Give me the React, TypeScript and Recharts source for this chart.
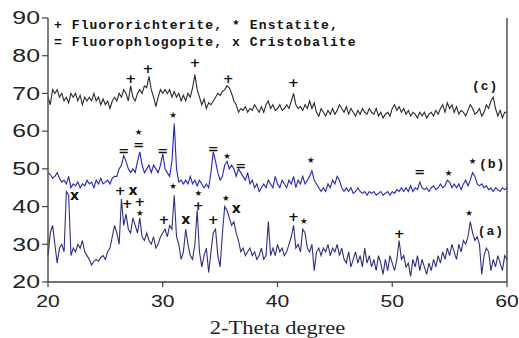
import React from "react";
import { ComposedChart, Line, XAxis, YAxis, ReferenceLine, ReferenceDot } from "recharts";

// intensities sampled every 0.2 deg from 20 to 60 (one row per degree)
const seriesA = [
  27, 33, 35, 30, 25,
  29, 30, 28, 44, 43,
  27, 29, 28, 30, 29,
  31, 28, 27, 26, 24.5,
  25.5, 26, 25.5, 26.5, 27,
  26, 28, 29, 32, 35,
  33, 30, 42, 35, 38,
  34, 33, 37, 35, 33,
  37, 32, 31, 33, 31,
  30, 32, 29, 30, 32,
  33, 34, 32, 35, 34,
  43, 32, 30, 26, 28,
  34, 30, 27, 26, 30,
  39, 28, 24, 27, 29,
  22.5, 28, 33, 34, 27,
  24, 33, 40, 39, 37,
  35, 36, 33, 31, 28,
  29, 27, 28, 29, 27,
  28, 26, 27, 29, 26,
  27, 36, 27, 29, 27,
  30, 28, 29, 27, 28,
  30, 32, 35, 29, 30,
  28, 34, 33, 29, 28,
  30, 23, 28, 29, 27,
  29, 28, 30, 27, 29,
  28, 30, 27, 29, 26,
  25, 28, 24, 26, 28,
  25, 27, 24, 29, 25,
  27, 24, 26, 23, 27,
  25, 22, 26, 23, 27,
  25, 23, 26, 31, 26,
  27, 24, 25, 21.5, 26,
  24, 27, 23, 26, 24,
  22, 25, 23, 26, 24,
  27, 25, 28, 26, 29,
  27, 30, 28, 26, 30,
  28, 31, 30, 32, 36,
  33, 31, 32, 30, 22,
  27, 29, 28, 23, 26,
  24, 27, 25, 23, 27,
  26,
];

const seriesB = [
  49, 48.5, 47.5, 48, 49,
  47.5, 46.5, 47, 46, 48,
  45, 46, 45.5, 46.5, 45,
  46, 45.5, 47, 46, 46.5,
  45, 47, 46, 47.5, 46,
  46.5, 47, 46, 47.5, 48,
  48, 50, 51, 53.5, 52,
  50, 49, 50, 49, 52,
  54.5, 51, 49, 50, 51,
  49, 51, 50, 49, 51,
  54, 50, 49, 48, 52,
  62, 50, 46.5, 47, 46,
  47, 46, 48, 46, 47,
  45.5, 47, 46, 45, 46,
  45, 49, 54.5, 52, 49,
  47, 48, 51, 52, 50,
  51, 50, 48, 50, 49,
  48, 47, 49, 46, 47,
  45, 46, 44, 45, 46,
  45, 47, 46, 45, 48,
  46, 45, 47, 46, 45,
  47, 46, 48, 45, 47,
  46, 48, 46, 47, 48,
  49.5, 47, 46, 45, 44,
  45, 44, 46, 45, 47,
  46, 48, 47, 45, 44,
  45, 44, 45, 43.5, 44,
  45, 44, 43.5, 44, 43,
  44, 43.5, 44, 43, 43.5,
  44, 43, 43.5, 44, 43,
  44, 43.5, 44.5, 44, 45,
  44, 45, 44, 45.5, 44,
  45, 44.5, 46.5, 45, 44.5,
  45, 44, 45, 45.5, 44.5,
  45, 46, 45, 45.5, 47,
  46.5, 45, 46, 45, 46,
  44.5, 46, 47, 45.5, 47,
  49, 48, 46, 45.5, 46,
  45, 45.5, 44.5, 45, 44,
  45, 44.5, 44, 45, 44.5,
  45,
];

const seriesC = [
  69, 67, 71, 70, 71,
  69, 70, 68, 69, 67.5,
  70, 69, 70, 68, 69.5,
  67, 69, 68, 69, 68,
  70, 68, 69, 67, 68.5,
  67, 68, 66, 68, 69,
  68, 70, 69, 71, 70,
  68, 72, 69, 68, 70,
  71, 70, 72, 71.5, 74.5,
  71, 69, 66.5, 69, 71,
  70, 71, 70, 71, 69,
  70.5, 69, 70, 68, 69.5,
  68, 70, 69, 71.5, 75,
  71, 69, 67, 68.5, 66,
  67.5, 67, 68, 69, 70,
  69.5, 70.5, 71, 72, 71.5,
  70, 68, 67, 65, 66,
  65.5, 66.5, 65, 66, 65.5,
  67, 66, 65, 66.5, 65,
  67, 68, 66, 67, 65.5,
  66, 67, 65.5, 66, 67,
  66, 68, 70, 67, 66,
  66.5, 65.5, 67, 66, 68,
  66, 67.5, 65, 64, 66,
  65, 64, 65.5, 64.5, 66,
  64.5, 65.5, 67, 66, 65,
  66.5, 64.5, 66, 65, 64,
  65.5, 64.5, 66, 65, 64.5,
  66, 65, 64.5, 66, 64,
  65, 63.5, 64.5, 65, 64,
  66, 67, 65.5, 66.5, 65,
  66, 64.5, 65.5, 64, 65,
  64.5, 63.5, 65, 64, 65,
  63.5, 64.5, 65, 64, 65.5,
  64.5, 66, 67, 65, 67.5,
  66, 67, 65, 66.5, 64.5,
  65.5, 65, 64, 65.5, 67,
  66, 64.5, 65, 66, 64,
  65, 67, 66, 68, 69,
  66, 64, 65.5, 63.5, 65,
  65,
];

// phase marks placed over the peaks
const markTheta = [
  27.2, 28.7, 32.8, 35.7, 41.4,
  26.6, 27.9, 27.9, 30.0, 30.9, 34.4, 35.6, 36.8, 42.9, 52.4, 54.9, 57.0,
  22.3, 26.3, 27.4, 26.9, 28.0, 28.0, 30.1, 30.9, 32.0, 33.1, 33.1, 34.4, 35.5, 36.4, 41.4, 42.3, 50.6, 56.7,
];
const markValue = [
  74, 76.5, 78.3, 74, 72.8,
  55, 59.8, 56.5, 55, 64.3, 55.4, 53.3, 51, 52.4, 49.3, 48.8, 52,
  43.2, 44.3, 44.5, 40.9, 41.3, 38.2, 36.7, 45.4, 36.8, 43.5, 40.3, 36.7, 42.3, 39.7, 37.4, 36.1, 32.8, 38.3,
];
const markText = [
  "+", "+", "+", "+", "+",
  "=", "★", "=", "=", "★", "=", "★", "=", "★", "=", "★", "★",
  "x", "+", "x", "+", "+", "★", "+", "★", "x", "★", "+", "+", "★", "x", "+", "★", "+", "★",
];

const curveNames = ["(c)", "(b)", "(a)"];
const curveNameTheta = [58.1, 58.7, 58.6];
const curveNameValue = [71.9, 51.2, 33.4];

const legendLines = ["+ Fluororichterite, * Enstatite,", "= Fluorophlogopite, x Cristobalite"];
const xTicks = [20, 30, 40, 50, 60];
const yTicks = [20, 30, 40, 50, 60, 70, 80, 90];

const data = seriesA.map((a, i) => ({
  theta: Math.round((20 + i * 0.2) * 10) / 10,
  a,
  b: seriesB[i],
  c: seriesC[i],
}));

const axisColor = "#444";

function YTick({ x, y, payload }: any) {
  return (
    <g transform={`translate(${x},${y})`}>
      <text textAnchor="end" dominantBaseline="central" transform="scale(1.38,1)"
        fontSize={18} fontFamily="'Liberation Sans', Arial, sans-serif" fill="#222">
        {payload.value}
      </text>
    </g>
  );
}

function XTick({ x, y, payload }: any) {
  return (
    <g transform={`translate(${x},${y})`}>
      <text textAnchor="middle" dominantBaseline="central" transform="scale(1.28,1)"
        fontSize={16.5} fontFamily="'Liberation Sans', Arial, sans-serif" fill="#222">
        {payload.value}
      </text>
    </g>
  );
}

function XTitle({ viewBox }: any) {
  const cx = viewBox.x + viewBox.width / 2;
  return (
    <g transform={`translate(${cx},${viewBox.y + 46})`}>
      <text textAnchor="middle" dominantBaseline="central" transform="scale(1.25,1)"
        fontSize={18} fontFamily="'Liberation Serif', 'Times New Roman', serif" fill="#222">
        2-Theta degree
      </text>
    </g>
  );
}

const markShape = (label: string) => (p: any) => (
  <text x={p.cx} y={p.cy} textAnchor="middle" dominantBaseline="central"
    fontSize={label === "★" ? 8.5 : label === "x" ? 14 : 13} fontWeight="bold"
    fontFamily="'DejaVu Sans', Arial, sans-serif" fill="#111">
    {label}
  </text>
);

const nameShape = (label: string) => (p: any) => (
  <text x={p.cx} y={p.cy} textAnchor="middle" dominantBaseline="central"
    fontSize={13} fontWeight="bold" letterSpacing={1}
    fontFamily="'Liberation Mono', 'Courier New', monospace" fill="#111">
    {label}
  </text>
);

export default function App() {
  return (
    <div style={{ position: "absolute", left: 0, top: 0, width: 519, height: 338, background: "#fff" }}>
      <ComposedChart width={519} height={338} data={data}
        margin={{ top: 18, right: 12, bottom: 0, left: 8 }}>
        <XAxis dataKey="theta" type="number" domain={[20, 60]} ticks={xTicks}
          height={56} tick={<XTick />} tickSize={5} tickMargin={14}
          axisLine={{ stroke: axisColor, strokeWidth: 1.4 }} tickLine={{ stroke: axisColor, strokeWidth: 1.2 }}
          label={<XTitle />} />
        <YAxis type="number" domain={[20, 90]} ticks={yTicks} width={40}
          tick={<YTick />} tickSize={6} tickMargin={2} allowDataOverflow
          axisLine={{ stroke: axisColor, strokeWidth: 1.4 }} tickLine={{ stroke: axisColor, strokeWidth: 1.2 }} />
        <ReferenceLine x={60} stroke={axisColor} strokeWidth={1.4} />
        <Line dataKey="c" type="linear" stroke="#2a2a2a" strokeWidth={1.1} dot={false} isAnimationActive={false} />
        <Line dataKey="b" type="linear" stroke="#2323c8" strokeWidth={1.1} dot={false} isAnimationActive={false} />
        <Line dataKey="a" type="linear" stroke="#2e2e85" strokeWidth={1.1} dot={false} isAnimationActive={false} />
        {markTheta.map((t, i) => (
          <ReferenceDot key={`m${i}`} x={t} y={markValue[i]} r={0} shape={markShape(markText[i])} />
        ))}
        {curveNames.map((n, i) => (
          <ReferenceDot key={`n${i}`} x={curveNameTheta[i]} y={curveNameValue[i]} r={0} shape={nameShape(n)} />
        ))}
      </ComposedChart>
      <div style={{
        position: "absolute", left: 54, top: 17, fontFamily: "'Liberation Mono', 'Courier New', monospace",
        fontWeight: "bold", fontSize: 13, lineHeight: "17px", letterSpacing: 1.1, whiteSpace: "pre", color: "#111",
      }}>
        {legendLines.map((l) => <div key={l}>{l}</div>)}
      </div>
    </div>
  );
}
